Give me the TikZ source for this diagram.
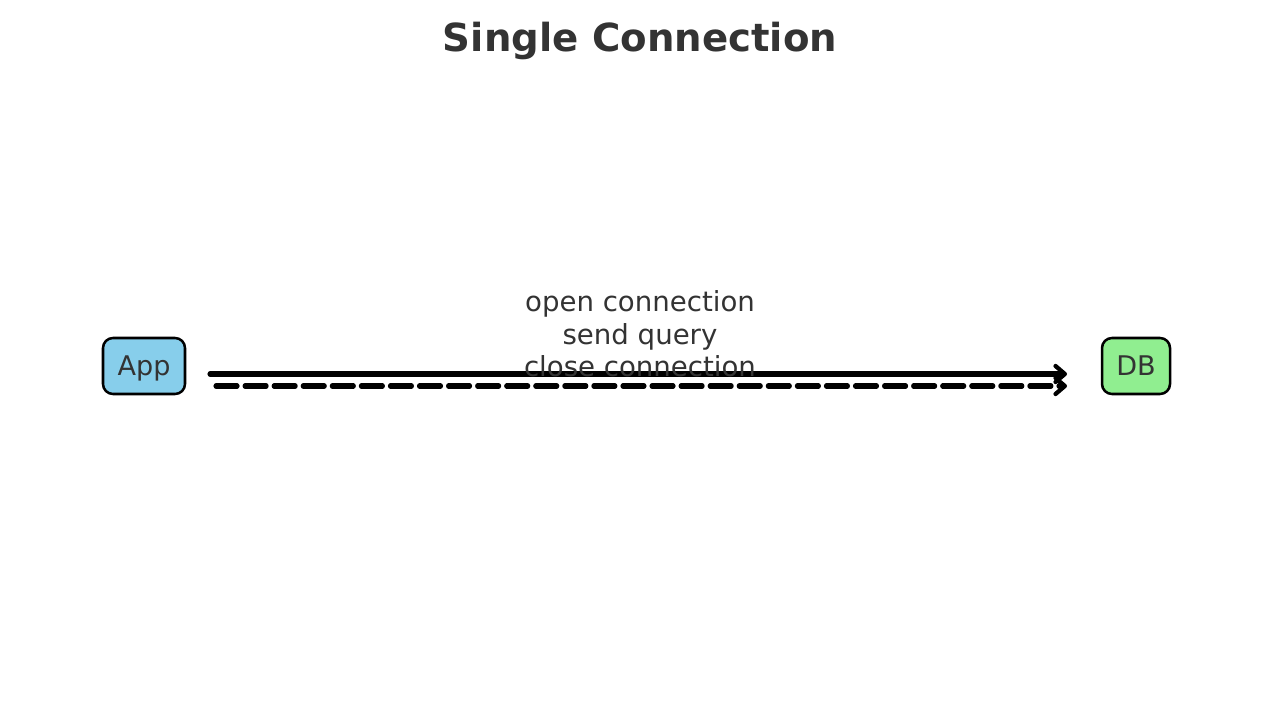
\documentclass[tikz,border=0pt]{standalone}
\usepackage{fontspec}
\setmainfont{DejaVu Sans}
\usetikzlibrary{arrows.meta}
\definecolor{txt}{HTML}{333333}
\definecolor{appblue}{HTML}{87CEEB}
\definecolor{dbgreen}{HTML}{90EE90}
\tikzset{
  box/.style={draw=black, line width=1.9pt, rounded corners=7.5pt, inner sep=0pt, text depth=0pt, font=\fontsize{20.3pt}{24pt}\selectfont, text=txt},
  flow/.style={line width=3.8pt, line cap=round, line join=round, -{Straight Barb[length=7pt,width=12pt,line width=3.2pt, round]}},
  lbl/.style={font=\fontsize{20.7pt}{24.3pt}\selectfont, text=txt, align=center, inner sep=0pt},
}
\begin{document}
\begin{tikzpicture}[x=0.75pt, y=-0.75pt]
\useasboundingbox (0,0) rectangle (1280,702);
\node[font=\bfseries\fontsize{29pt}{34pt}\selectfont, text=txt] (title) at (640,41) {Single Connection};
\node[box, fill=appblue, minimum width=61.5pt, minimum height=42pt] (app) at (144,366) {App};
\node[box, fill=dbgreen, minimum width=51pt, minimum height=42pt] (db) at (1136,366) {DB};
\coordinate (s1) at (210,374);
\coordinate (e1) at (1067,374);
\coordinate (s2) at (216,386);
\coordinate (e2) at (1067,386);
\draw[flow] (s1) -- (e1);
\draw[flow, dash pattern=on 15.8pt off 6pt] (s2) -- (e2);
\node[lbl] (msg) at (640,334) {open connection\\send query\\close connection};
\end{tikzpicture}
\end{document}
